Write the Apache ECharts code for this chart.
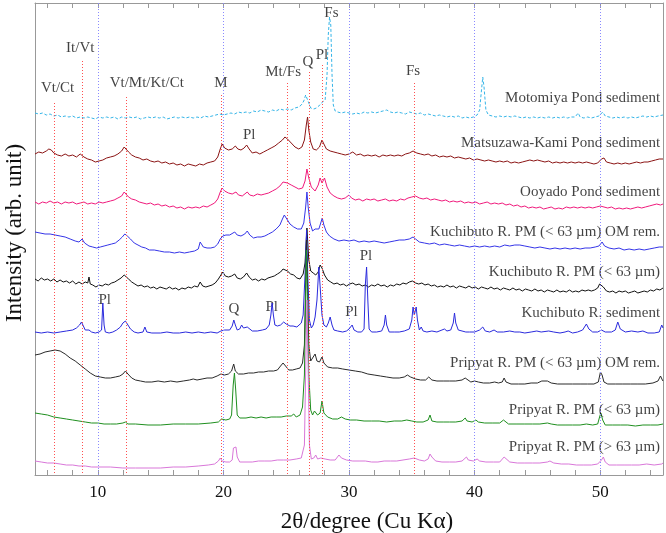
<!DOCTYPE html>
<html><head><meta charset="utf-8">
<script src="https://cdn.jsdelivr.net/npm/echarts@6/dist/echarts.min.js"></script>
<style>html,body{margin:0;padding:0;background:#fff}#c{width:666px;height:533px}</style>
</head><body><div id="c"></div>
<script>
// ---- data: [2theta (deg), stacked intensity (arb. unit)] ----
const motomiya = [[5,362],[5.3,361],[5.6,362],[5.9,360],[6.2,361],[6.5,359],[6.8,360],[7.1,358],[7.4,359],[7.7,358],[8.0,359],[8.3,357],[8.6,358],[8.9,357],[9.2,358],[9.5,357],[9.8,356],[10.1,358],[10.4,357],[10.7,358],[11,357],[11.3,358],[11.6,356],[11.9,358],[12.2,357],[12.5,358],[12.8,357],[13.1,358],[13.4,356],[13.7,357],[14,358],[14.3,357],[14.6,358],[14.9,357],[15.2,358],[15.5,356],[15.8,357],[16.1,358],[16.4,357],[16.7,358],[17,357],[17.3,358],[17.6,357],[17.9,358],[18.2,357],[18.5,359],[18.8,358],[19.1,359],[19.4,360],[19.7,361],[20,360],[20.3,361],[20.6,362],[20.9,361],[21.2,363],[21.5,362],[21.8,363],[22.1,362],[22.4,364],[22.7,363],[23,365],[23.3,364],[23.6,363],[23.9,365],[24.2,364],[24.5,366],[24.8,365],[25.1,366],[25.4,365],[25.7,367],[26.0,368],[26.2,370],[26.4,374],[26.55,380],[26.65,378],[26.8,372],[26.95,367],[27.2,366],[27.4,367],[27.6,369],[27.8,372],[27.95,370],[28.1,375],[28.25,400],[28.35,440],[28.45,458],[28.55,450],[28.65,400],[28.75,370],[28.9,364],[29.1,363],[29.4,362],[29.7,363],[30,362],[30.3,361],[30.6,362],[30.9,361],[31.2,363],[31.5,362],[31.8,363],[32.1,362],[32.4,363],[32.7,364],[33.0,365],[33.3,363],[33.6,362],[33.9,363],[34.2,362],[34.5,361],[34.8,363],[35.1,362],[35.4,361],[35.7,362],[36,360],[36.3,361],[36.6,360],[36.9,359],[37.2,360],[37.5,359],[37.8,358],[38.1,359],[38.4,358],[38.7,359],[39,357],[39.3,358],[39.6,357],[39.9,358],[40.2,360],[40.4,365],[40.55,385],[40.65,398],[40.75,388],[40.9,365],[41.1,360],[41.4,359],[41.7,358],[42,359],[42.3,358],[42.6,359],[42.9,358],[43.2,359],[43.5,358],[43.8,357],[44.1,358],[44.4,357],[44.7,358],[45,357],[45.3,358],[45.6,357],[45.9,358],[46.2,357],[46.5,358],[46.8,357],[47.1,358],[47.4,357],[47.7,358],[48,358],[48.25,362],[48.4,358],[48.7,357],[49,358],[49.3,357],[49.6,358],[49.9,359],[50.2,363],[50.4,359],[50.7,358],[51,357],[51.3,358],[51.6,357],[51.9,358],[52.2,357],[52.5,358],[52.8,357],[53.1,358],[53.4,359],[53.7,358],[54,359],[54.3,358],[54.6,359],[55,360]];
const matsuzawa = [[5,321],[5.3,323],[5.6,322],[5.9,324],[6.1,326],[6.3,325],[6.5,322],[6.8,320],[7.1,319],[7.4,321],[7.7,319],[8,320],[8.3,318],[8.6,321],[8.9,318],[9.2,316],[9.5,315],[9.8,313],[10.1,314],[10.4,315],[10.7,317],[11,318],[11.3,319],[11.6,321],[11.9,324],[12.1,328],[12.25,327],[12.45,323],[12.7,320],[13,318],[13.3,317],[13.6,315],[13.9,316],[14.2,314],[14.5,313],[14.8,314],[15.1,312],[15.4,313],[15.7,311],[16,312],[16.3,310],[16.6,311],[16.9,309],[17.2,311],[17.5,310],[17.8,309],[18.1,311],[18.4,310],[18.7,312],[19,313],[19.3,314],[19.55,318],[19.75,326],[19.9,331],[20.1,327],[20.4,325],[20.7,326],[20.95,329],[21.15,326],[21.4,325],[21.65,327],[21.85,330],[22.05,326],[22.3,322],[22.6,323],[22.9,321],[23.2,323],[23.5,325],[23.8,327],[24.1,329],[24.4,332],[24.7,335],[24.9,338],[25.1,336],[25.4,332],[25.7,328],[26.0,326],[26.25,328],[26.45,335],[26.6,350],[26.7,358],[26.8,345],[26.95,333],[27.15,326],[27.4,325],[27.65,328],[27.85,335],[28.0,331],[28.2,326],[28.5,324],[28.8,323],[29.1,322],[29.4,321],[29.7,320],[30,321],[30.3,323],[30.6,320],[30.9,321],[31.2,319],[31.5,320],[31.8,319],[32.1,320],[32.4,318],[32.7,320],[33,319],[33.3,320],[33.6,319],[33.9,320],[34.2,319],[34.5,321],[34.8,322],[35.1,324],[35.4,322],[35.7,321],[36,320],[36.3,321],[36.6,319],[36.9,320],[37.2,318],[37.5,319],[37.8,318],[38.1,319],[38.4,317],[38.7,318],[39,317],[39.3,316],[39.6,317],[39.9,315],[40.2,316],[40.5,315],[40.8,314],[41.1,315],[41.4,314],[41.7,313],[42,314],[42.3,313],[42.6,314],[42.9,312],[43.2,313],[43.5,312],[43.8,313],[44.1,314],[44.4,315],[44.7,314],[45,315],[45.3,314],[45.6,313],[45.9,314],[46.2,312],[46.5,313],[46.8,312],[47.1,313],[47.4,312],[47.7,313],[48,312],[48.3,313],[48.6,312],[48.9,313],[49.2,312],[49.5,311],[49.8,312],[50.1,316],[50.3,317],[50.5,313],[50.8,312],[51.1,311],[51.4,312],[51.7,311],[52,312],[52.3,311],[52.6,312],[52.9,313],[53.2,312],[53.5,313],[53.8,313],[54.1,314],[54.4,315],[54.7,316],[55,316]];
const ooyado = [[5,273],[5.3,271],[5.6,273],[5.9,272],[6.2,274],[6.5,272],[6.8,273],[7.1,271],[7.4,273],[7.7,272],[8,273],[8.3,271],[8.6,272],[8.9,273],[9.2,271],[9.5,272],[9.8,271],[10.1,273],[10.4,272],[10.7,273],[11,274],[11.3,275],[11.6,277],[11.9,279],[12.1,283],[12.25,281],[12.45,278],[12.7,276],[13,275],[13.3,273],[13.6,272],[13.9,271],[14.2,272],[14.5,270],[14.8,271],[15.1,269],[15.4,270],[15.7,268],[16,269],[16.3,267],[16.6,268],[16.9,266],[17.2,268],[17.5,267],[17.8,268],[18.1,267],[18.4,269],[18.7,268],[19,270],[19.3,272],[19.55,276],[19.75,283],[19.9,287],[20.1,284],[20.4,282],[20.7,281],[21.0,283],[21.2,280],[21.5,279],[21.9,283],[22.1,280],[22.4,279],[22.7,281],[23,280],[23.3,281],[23.6,282],[23.9,284],[24.2,286],[24.5,289],[24.75,293],[24.9,295],[25.1,292],[25.4,290],[25.7,288],[26,286],[26.3,287],[26.5,294],[26.65,306],[26.8,297],[27.0,288],[27.3,284],[27.55,290],[27.7,297],[27.85,292],[28.05,297],[28.25,288],[28.5,282],[28.8,279],[29.1,277],[29.4,276],[29.7,277],[30.0,280],[30.2,277],[30.5,275],[30.8,276],[31.1,274],[31.4,276],[31.7,275],[32,276],[32.3,274],[32.6,275],[32.9,276],[33.2,274],[33.5,275],[33.8,274],[34.1,276],[34.4,275],[34.7,277],[35,278],[35.3,279],[35.6,277],[35.9,276],[36.2,277],[36.5,275],[36.8,276],[37.1,275],[37.4,274],[37.7,275],[38,273],[38.3,274],[38.6,273],[38.9,274],[39.2,272],[39.5,273],[39.8,272],[40.1,273],[40.4,271],[40.7,272],[41,273],[41.3,271],[41.6,272],[41.9,271],[42.2,272],[42.5,270],[42.8,271],[43.1,269],[43.4,270],[43.7,268],[44,269],[44.3,267],[44.6,268],[44.9,267],[45.2,268],[45.5,266],[45.8,267],[46.1,268],[46.4,266],[46.7,267],[47,266],[47.3,268],[47.6,267],[47.9,268],[48.2,267],[48.5,268],[48.8,267],[49.1,268],[49.4,267],[49.7,268],[50,269],[50.3,268],[50.6,267],[50.9,268],[51.2,266],[51.5,267],[51.8,266],[52.1,267],[52.4,266],[52.7,267],[53,268],[53.3,267],[53.6,268],[53.9,269],[54.2,270],[54.5,271],[54.8,270],[55,271]];
const kuchiOM = [[5,243],[5.4,242],[5.8,241],[6.2,241],[6.6,240],[7,239],[7.4,238],[7.8,236],[8.2,234],[8.5,233],[8.75,236],[8.95,232],[9.3,229],[9.6,228],[9.9,227],[10.2,228],[10.5,229],[10.8,230],[11.1,231],[11.4,232],[11.7,235],[11.95,238],[12.15,241],[12.35,239],[12.6,236],[12.9,232],[13.2,230],[13.5,228],[13.8,227],[14.1,225],[14.5,225],[14.9,224],[15.3,223],[15.7,223],[16.1,222],[16.5,223],[16.9,222],[17.3,223],[17.7,224],[18.0,226],[18.15,233],[18.25,235],[18.4,228],[18.7,227],[19.0,227],[19.3,228],[19.55,231],[19.75,236],[19.95,239],[20.2,240],[20.5,240],[20.9,243],[21.1,240],[21.4,239],[21.7,241],[21.9,244],[22.1,240],[22.4,237],[22.7,238],[23.0,238],[23.3,239],[23.6,241],[23.9,243],[24.2,246],[24.5,250],[24.7,256],[24.85,260],[25.0,258],[25.3,251],[25.6,248],[25.9,246],[26.2,246],[26.4,252],[26.55,268],[26.65,283],[26.75,268],[26.9,252],[27.1,244],[27.3,246],[27.45,248],[27.6,246],[27.75,252],[27.87,257],[28.0,250],[28.2,243],[28.45,239],[28.8,236],[29.2,234],[29.6,235],[30.0,234],[30.4,235],[30.8,233],[31.2,234],[31.6,233],[32,234],[32.4,233],[32.8,232],[33.2,233],[33.6,234],[34,235],[34.4,235],[34.8,236],[35.1,238],[35.3,236],[35.6,233],[36,232],[36.4,231],[36.8,232],[37.2,230],[37.6,231],[38,230],[38.4,229],[38.8,230],[39.2,229],[39.6,228],[40,229],[40.4,228],[40.8,229],[41.2,228],[41.6,229],[42,228],[42.4,230],[42.8,229],[43.2,230],[43.6,230],[44,229],[44.4,228],[44.8,227],[45.2,228],[45.6,227],[46,226],[46.4,227],[46.8,226],[47.2,227],[47.6,226],[48,227],[48.4,226],[48.8,227],[49.2,227],[49.6,228],[49.9,229],[50.15,233],[50.35,229],[50.7,227],[51.1,226],[51.5,227],[51.9,225],[52.3,226],[52.7,225],[53.1,226],[53.5,225],[53.9,226],[54.3,227],[54.7,228],[55,228]];
const kuchiPM = [[5,196],[5.25,194],[5.5,197],[5.75,195],[6,196],[6.25,194],[6.5,196],[6.75,193],[7,195],[7.25,193],[7.5,194],[7.75,192],[8,194],[8.25,191],[8.5,193],[8.75,191],[9,193],[9.2,192],[9.3,198],[9.4,191],[9.6,190],[9.85,188],[10.1,190],[10.35,189],[10.6,191],[10.85,190],[11.1,192],[11.35,193],[11.6,195],[11.85,197],[12.1,200],[12.25,199],[12.45,196],[12.7,193],[12.95,191],[13.2,189],[13.45,190],[13.7,188],[13.95,189],[14.2,187],[14.45,188],[14.7,186],[14.95,188],[15.2,187],[15.45,186],[15.7,188],[15.95,186],[16.2,187],[16.45,185],[16.7,187],[16.95,186],[17.2,188],[17.45,187],[17.7,189],[17.95,188],[18.15,193],[18.35,189],[18.6,188],[18.85,189],[19.1,190],[19.35,192],[19.6,196],[19.8,200],[19.95,203],[20.15,199],[20.4,198],[20.65,199],[20.9,201],[21.1,197],[21.35,196],[21.6,198],[21.85,202],[22.05,198],[22.3,195],[22.55,196],[22.8,194],[23.05,196],[23.3,195],[23.55,197],[23.8,198],[24.05,199],[24.3,201],[24.55,203],[24.75,206],[24.9,207],[25.1,204],[25.35,201],[25.6,200],[25.85,197],[26.1,196],[26.35,201],[26.5,212],[26.65,247],[26.8,215],[26.95,204],[27.15,202],[27.35,200],[27.55,203],[27.7,210],[27.85,207],[28.05,200],[28.3,195],[28.55,193],[28.8,191],[29.05,192],[29.3,190],[29.55,191],[29.8,189],[30.05,191],[30.3,192],[30.55,190],[30.8,191],[31.05,189],[31.3,190],[31.55,188],[31.8,190],[32.05,189],[32.3,191],[32.55,189],[32.8,190],[33.05,188],[33.3,190],[33.55,189],[33.8,191],[34.05,190],[34.3,192],[34.55,191],[34.8,193],[35.05,194],[35.3,192],[35.55,191],[35.8,192],[36.05,190],[36.3,191],[36.55,189],[36.8,190],[37.05,188],[37.3,189],[37.55,188],[37.8,190],[38.05,188],[38.3,189],[38.55,187],[38.8,189],[39.05,188],[39.3,187],[39.55,189],[39.8,187],[40.05,188],[40.3,186],[40.55,188],[40.8,187],[41.05,186],[41.3,188],[41.55,186],[41.8,187],[42.05,185],[42.3,187],[42.55,186],[42.8,185],[43.05,187],[43.3,185],[43.55,186],[43.8,184],[44.05,186],[44.3,185],[44.55,184],[44.8,186],[45.05,184],[45.3,185],[45.55,183],[45.8,185],[46.05,184],[46.3,183],[46.55,185],[46.8,183],[47.05,184],[47.3,183],[47.55,185],[47.8,183],[48.05,184],[48.3,183],[48.55,185],[48.8,184],[49.05,185],[49.3,184],[49.55,185],[49.8,187],[49.95,191],[50.1,192],[50.25,188],[50.5,184],[50.75,183],[51,184],[51.25,182],[51.5,184],[51.75,183],[52,184],[52.25,182],[52.5,183],[52.75,184],[53,182],[53.25,183],[53.5,184],[53.75,183],[54,185],[54.25,184],[54.5,186],[54.75,185],[55,187]];
const kuchiSed = [[5,143],[5.5,142],[6,143],[6.5,142],[7,143],[7.5,144],[8,145],[8.3,147],[8.55,150],[8.7,153],[8.85,149],[9.0,145],[9.15,144],[9.3,145],[9.5,143],[9.8,142],[10.1,143],[10.3,145],[10.4,172],[10.5,150],[10.6,143],[10.9,142],[11.2,143],[11.5,145],[11.8,148],[12.0,152],[12.2,154],[12.4,150],[12.6,146],[12.9,143],[13.2,142],[13.6,143],[13.75,148],[13.9,143],[14.3,142],[15,142],[15.5,143],[16,142],[16.5,142],[17,143],[17.5,142],[18,143],[18.5,142],[19,143],[19.5,142],[19.8,144],[20.1,145],[20.5,145],[20.7,149],[20.83,155],[20.95,150],[21.1,145],[21.3,146],[21.45,150],[21.6,147],[21.75,146],[21.9,148],[22.05,146],[22.3,144],[22.7,144],[23.1,145],[23.4,146],[23.65,150],[23.78,160],[23.88,172],[23.98,160],[24.1,150],[24.3,149],[24.55,150],[24.8,153],[25.0,151],[25.3,149],[25.55,149],[25.7,150],[25.85,148],[26.0,148],[26.2,152],[26.35,160],[26.5,200],[26.62,245],[26.72,200],[26.85,155],[27.0,147],[27.15,150],[27.3,158],[27.45,175],[27.6,208],[27.72,185],[27.85,160],[28.0,150],[28.2,148],[28.35,152],[28.5,158],[28.65,150],[28.8,145],[29.1,144],[29.5,143],[29.8,144],[30.0,146],[30.25,150],[30.4,145],[30.7,143],[31.0,143],[31.2,146],[31.3,190],[31.4,208],[31.5,175],[31.6,146],[31.8,143],[32.2,143],[32.6,144],[32.8,150],[32.9,160],[33.0,150],[33.2,143],[33.6,143],[34.0,143],[34.4,144],[34.8,146],[35.0,155],[35.1,168],[35.2,160],[35.35,168],[35.45,155],[35.6,145],[35.75,148],[35.9,144],[36.2,143],[36.6,144],[37,143],[37.4,145],[37.6,146],[37.8,144],[38.1,145],[38.3,152],[38.4,162],[38.5,152],[38.7,145],[39,144],[39.3,143],[39.6,143],[40,143],[40.4,145],[40.65,148],[40.85,144],[41.2,143],[41.55,145],[41.8,143],[42.3,143],[42.8,144],[43.2,143],[43.6,143],[44,142],[44.5,143],[44.95,144],[45.3,143],[45.9,144],[46.3,143],[46.8,142],[47.2,143],[47.45,144],[47.8,142],[48.2,143],[48.6,145],[48.9,151],[49.1,146],[49.4,143],[49.8,143],[50.1,145],[50.4,143],[50.9,143],[51.2,145],[51.4,153],[51.6,146],[52,143],[52.5,144],[53,143],[53.4,144],[53.8,142],[54.3,142],[54.7,143],[54.9,150],[55,147]];
const pripOM = [[5,120],[5.4,121],[5.8,123],[6.2,124],[6.6,125],[7.0,124],[7.4,121],[7.8,117],[8.2,114],[8.6,110],[9.0,106],[9.4,102],[9.8,99],[10.2,98],[10.6,97],[11.0,97],[11.4,98],[11.75,99],[12.0,101],[12.2,104],[12.4,101],[12.7,97],[13.0,95],[13.4,94],[13.8,93],[14.3,93],[14.8,94],[15.3,93],[15.8,94],[16.3,93],[16.8,94],[17.3,95],[17.6,96],[17.9,95],[18.3,96],[18.7,97],[19.1,97],[19.5,99],[19.8,101],[20.1,100],[20.4,101],[20.65,104],[20.82,111],[20.95,104],[21.2,101],[21.6,101],[22,102],[22.4,102],[22.8,103],[23.2,103],[23.6,104],[24.0,104],[24.3,105],[24.55,109],[24.75,112],[24.95,109],[25.2,105],[25.5,105],[25.8,106],[26.1,107],[26.3,112],[26.45,130],[26.62,235],[26.8,130],[26.95,114],[27.1,115],[27.3,121],[27.45,114],[27.65,113],[27.85,118],[28.0,112],[28.3,108],[28.7,107],[29.1,107],[29.5,106],[30.0,105],[30.5,104],[31,103],[31.5,101],[32,100],[32.5,99],[33,98],[33.5,97],[34,97],[34.4,98],[34.65,100],[34.9,98],[35.3,96],[35.7,95],[36.1,95],[36.35,98],[36.45,99],[36.6,95],[37,94],[37.5,94],[38,94],[38.5,94],[39,95],[39.25,97],[39.4,95],[39.7,93],[40.0,94],[40.15,96],[40.3,93],[40.7,92],[41.2,92],[41.6,93],[41.75,95],[41.9,92],[42.2,93],[42.35,97],[42.5,93],[42.9,91],[43.5,91],[44,91],[44.5,92],[45,92],[45.35,94],[45.5,95],[45.8,94],[46.1,92],[46.6,91],[47.2,91],[47.8,91],[48.4,91],[49,91],[49.5,91],[49.85,93],[50.02,103],[50.15,100],[50.3,93],[50.6,91],[51.2,91],[51.8,91],[52.4,91],[53,91],[53.6,91],[54.2,92],[54.6,94],[54.8,99],[54.95,95],[55,94]];
const pripLt63 = [[5,62],[5.5,61],[6,60],[6.5,58],[7,57],[7.5,56],[8,55],[8.5,54],[9,53],[9.5,52],[10,52],[10.5,51],[11,51],[11.5,51],[12,52],[12.2,53],[12.4,51],[13,51],[14,50],[15,50],[16,51],[17,51],[18,51],[19,52],[19.6,53],[19.85,56],[20.2,55],[20.5,56],[20.65,60],[20.78,90],[20.88,102],[20.98,85],[21.1,60],[21.3,57],[21.8,57],[22.2,58],[22.6,57],[23,58],[23.4,57],[23.8,58],[24.2,58],[24.6,58],[25,59],[25.4,59],[25.6,61],[25.8,58],[26.1,60],[26.3,68],[26.45,100],[26.6,225],[26.8,100],[26.95,65],[27.1,60],[27.25,64],[27.35,66],[27.5,60],[27.7,62],[27.85,74],[28.0,62],[28.3,58],[28.7,56],[29.1,56],[29.4,58],[29.7,56],[30.1,55],[30.6,55],[31.2,54],[31.8,54],[32.4,54],[33,53],[33.6,54],[34.2,54],[34.6,55],[35,54],[35.4,53],[35.9,53],[36.3,55],[36.45,60],[36.6,54],[37,53],[37.5,53],[38,53],[38.5,53],[39,54],[39.25,57],[39.4,54],[39.8,53],[40.1,55],[40.3,53],[40.8,52],[41.4,52],[42,52],[42.3,55],[42.45,54],[42.7,51],[43.3,51],[44,51],[44.6,51],[45.2,51],[45.8,52],[46.1,51],[46.6,50],[47.2,50],[47.8,50],[48.4,50],[48.9,51],[49.4,50],[49.8,51],[49.95,58],[50.05,62],[50.2,55],[50.4,50],[51,50],[51.6,50],[52.2,50],[52.8,49],[53.4,50],[54,50],[54.6,50],[55,51]];
const pripGt63 = [[5,14],[5.5,13],[6,12],[6.5,12],[7,11],[7.5,10],[8,10],[8.5,9],[9,9],[9.5,8],[10,8],[11,8],[12,7],[13,7],[14,7],[15,7],[16,8],[17,8],[18,9],[18.8,10],[19.3,11],[19.6,14],[19.75,17],[19.9,14],[20.2,13],[20.5,13],[20.7,15],[20.8,27],[20.9,29],[21.0,28],[21.1,18],[21.3,13],[21.8,13],[22.3,13],[22.8,14],[23.3,14],[23.8,14],[24.3,15],[24.8,15],[25.3,15],[25.8,16],[26.2,17],[26.45,30],[26.65,175],[26.85,30],[27.0,16],[27.2,17],[27.35,20],[27.5,16],[27.75,17],[27.9,19],[28.1,16],[28.5,15],[28.9,15],[29.2,20],[29.4,17],[29.8,15],[30.3,14],[30.8,14],[31.3,14],[31.8,13],[32.3,13],[32.8,14],[33.3,14],[33.8,14],[34.3,15],[34.8,16],[35.2,17],[35.6,15],[36.0,14],[36.3,16],[36.45,21],[36.6,18],[36.9,14],[37.4,13],[38,13],[38.5,13],[39.0,14],[39.35,18],[39.5,15],[39.9,14],[40.2,16],[40.4,14],[40.9,13],[41.5,13],[42.0,13],[42.35,18],[42.5,16],[42.8,13],[43.4,12],[44,12],[44.6,12],[45.2,12],[45.8,13],[46.0,14],[46.3,12],[46.9,11],[47.5,11],[48.1,10],[48.7,10],[49.3,10],[49.8,11],[50.1,15],[50.25,18],[50.4,13],[50.7,10],[51.3,10],[51.9,10],[52.5,10],[53.1,10],[53.7,11],[54.3,10],[54.9,11],[55,12]];

const sampleNames = ['Motomiya Pond sediment','Matsuzawa-Kami Pond sediment','Ooyado Pond sediment','Kuchibuto R. PM (< 63 µm) OM rem.','Kuchibuto R. PM (< 63 µm)','Kuchibuto R. sediment','Pripyat R. PM (< 63 µm) OM rem.','Pripyat R. PM (< 63 µm)','Pripyat R. PM (> 63 µm)'];
const sampleLabelY = [377,332,283,243,203,162,112,65,28];
const sampleColors = ['#35b5e8','#8b1414','#f01a7c','#3535e8','#111111','#2a2add','#2a2a2a','#1f8f1f','#d977d9'];
const sampleData = [motomiya,matsuzawa,ooyado,kuchiOM,kuchiPM,kuchiSed,pripOM,pripLt63,pripGt63];

// mineral reference lines: position (deg), top of line (arb.)
const mineralPos = [6.52,8.73,12.27,19.8,25.05,26.8,27.9,35.2];
const mineralTop = [372,414,378,380,392,403,410,392];
// mineral labels [x, y, text]
const mineralLabels = [[6.8,387,'Vt/Ct'],[8.6,427,'It/Vt'],[13.9,392,'Vt/Mt/Kt/Ct'],[19.8,392,'M'],[24.75,403,'Mt/Fs'],[26.72,413,'Q'],[27.85,420,'Pl'],[28.6,462,'Fs'],[35.1,404,'Fs'],
  [22.05,340,'Pl'],[10.55,175,'Pl'],[20.83,166,'Q'],[23.84,168,'Pl'],[30.2,163,'Pl'],[31.35,219,'Pl']];
const gridPos = [10,20,30,40,50];
const xTickVals = [6,8,10,12,14,16,18,20,22,24,26,28,30,32,34,36,38,40,42,44,46,48,50,52,54];
const xLabelVals = [10,20,30,40,50];

const SERIF = '"Liberation Serif","Times New Roman",serif';
const chart = echarts.init(document.getElementById('c'), null, {renderer:'canvas'});
const series = [];
const mlData = [];
mineralPos.forEach((p,i)=>mlData.push([{coord:[p,mineralTop[i]],lineStyle:{color:'#ff5050'}},{coord:[p,0]}]));
gridPos.forEach(p=>mlData.push([{coord:[p,472],lineStyle:{color:'#8a8aff'}},{coord:[p,0]}]));
series.push({type:'scatter',z:1,silent:true,symbolSize:1,itemStyle:{color:'rgba(0,0,0,0)'},
  data: mineralLabels.map(a=>({value:[a[0],a[1]],name:a[2]})),
  label:{show:true,position:'inside',formatter:p=>p.name,color:'#111',fontFamily:SERIF,fontSize:15},
  markLine:{silent:true,symbol:['none','none'],label:{show:false},lineStyle:{type:[1,2],width:1},data:mlData}
});
sampleData.forEach((d,i)=>{
  series.push({type:'line',name:sampleNames[i],data:d,showSymbol:false,symbol:'none',z:3,
    lineStyle:{width:1,color:sampleColors[i],type: i===0?[3,2]:'solid'}});
});
series.push({type:'scatter',z:4,silent:true,symbolSize:1,itemStyle:{color:'rgba(0,0,0,0)'},
  data: sampleNames.map((n,i)=>({value:[54.77,sampleLabelY[i]],name:n})),
  label:{show:true,position:'inside',align:'right',formatter:p=>p.name,color:'#111',fontFamily:SERIF,fontSize:15}
});

chart.setOption({
  animation:false,
  backgroundColor:'#fff',
  grid:{left:35,right:3,top:3,bottom:58,containLabel:false,outerBoundsMode:'none'},
  xAxis:[{type:'value',min:5,max:55,position:'bottom',
    name:'2θ/degree (Cu Kα)',nameLocation:'middle',nameGap:35,
    nameTextStyle:{fontFamily:SERIF,fontSize:23,color:'#111',padding:[0,0,0,36]},
    axisLine:{show:true,onZero:false,lineStyle:{color:'#999',width:1}},
    axisTick:{show:true,inside:true,length:5,customValues:xTickVals,lineStyle:{color:'#999'}},
    axisLabel:{show:true,customValues:xLabelVals,fontFamily:SERIF,fontSize:17,color:'#111',margin:9},
    splitLine:{show:false}},
   {type:'value',min:5,max:55,position:'top',
    axisLine:{show:true,onZero:false,lineStyle:{color:'#999',width:1}},
    axisTick:{show:true,inside:true,length:5,customValues:xTickVals,lineStyle:{color:'#999'}},
    axisLabel:{show:false},splitLine:{show:false}}],
  yAxis:[{type:'value',min:0,max:472,position:'left',
    name:'Intensity (arb. unit)',nameLocation:'middle',nameGap:9,nameRotate:90,
    nameTextStyle:{fontFamily:SERIF,fontSize:23,color:'#111',padding:[0,0,0,12]},
    axisLine:{show:true,onZero:false,lineStyle:{color:'#999',width:1}},
    axisTick:{show:false},axisLabel:{show:false},splitLine:{show:false}},
   {type:'value',min:0,max:472,position:'right',
    axisLine:{show:true,onZero:false,lineStyle:{color:'#999',width:1}},
    axisTick:{show:false},axisLabel:{show:false},splitLine:{show:false}}],
  series: series
});
</script></body></html>
